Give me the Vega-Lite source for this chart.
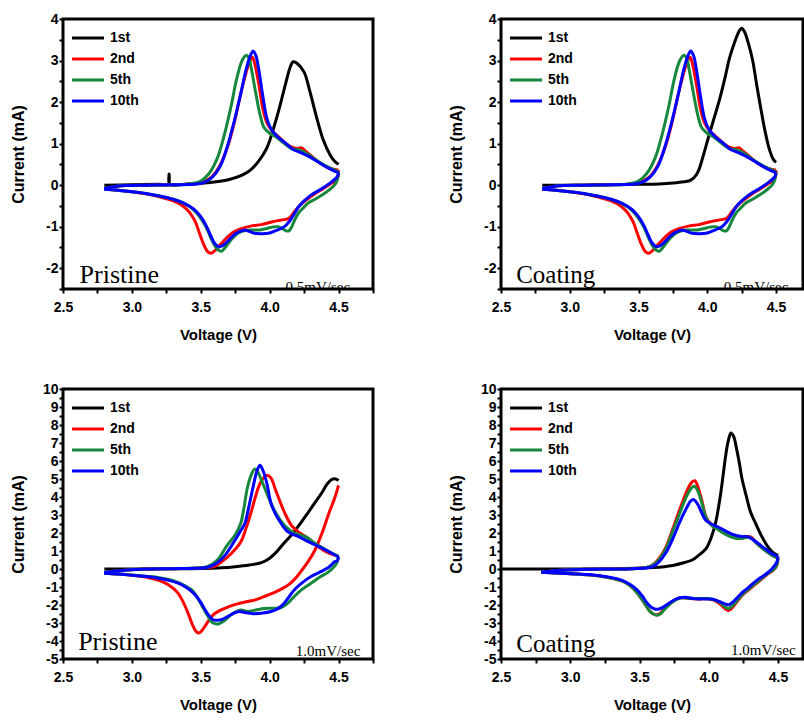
{
"$schema":"https://vega.github.io/schema/vega-lite/v6.json",
"padding":{"left":8,"top":10,"right":0,"bottom":0},
"background":"white",
"config":{
 "view":{"stroke":"black","strokeWidth":3},
 "axis":{"domain":false,"grid":false,"tickColor":"black","tickWidth":2,"tickSize":4,"tickCount":100,"labelFont":"Liberation Sans","labelFontWeight":"bold","labelFontSize":14,"labelColor":"black","labelFlush":false,"labelOverlap":false,"titleFont":"Liberation Sans","titleFontWeight":"bold","titleFontSize":15,"titleColor":"black"},
 "axisX":{"labelPadding":7,"titleY":38,"titleBaseline":"top"},
 "axisY":{"labelPadding":1,"titleX":-37,"titleBaseline":"bottom","titleFontSize":16},
 "legend":{"labelFont":"Liberation Sans","labelFontWeight":"bold","labelFontSize":14,"labelColor":"black","symbolType":"M-4,0H4","symbolSize":64,"symbolStrokeWidth":4,"labelOffset":15,"rowPadding":7},
 "line":{"interpolate":"catmull-rom","strokeWidth":3},
 "text":{"font":"Liberation Serif","color":"black"}
},
"datasets":{
"tl":[
{"c":"1st","b":"u","v":2.8,"a":0.0},{"c":"1st","b":"u","v":3.0,"a":0.01},{"c":"1st","b":"u","v":3.2,"a":0.02},{"c":"1st","b":"u","v":3.265,"a":0.02},{"c":"1st","b":"u","v":3.27,"a":0.27},{"c":"1st","b":"u","v":3.275,"a":0.02},{"c":"1st","b":"u","v":3.4,"a":0.03},{"c":"1st","b":"u","v":3.55,"a":0.06},{"c":"1st","b":"u","v":3.7,"a":0.13},{"c":"1st","b":"u","v":3.8,"a":0.24},{"c":"1st","b":"u","v":3.86,"a":0.36},{"c":"1st","b":"u","v":3.92,"a":0.58},{"c":"1st","b":"u","v":3.98,"a":0.9},{"c":"1st","b":"u","v":4.04,"a":1.5},{"c":"1st","b":"u","v":4.08,"a":1.98},{"c":"1st","b":"u","v":4.12,"a":2.5},{"c":"1st","b":"u","v":4.15,"a":2.85},{"c":"1st","b":"u","v":4.17,"a":2.97},{"c":"1st","b":"u","v":4.2,"a":2.93},{"c":"1st","b":"u","v":4.25,"a":2.72},{"c":"1st","b":"u","v":4.29,"a":2.28},{"c":"1st","b":"u","v":4.34,"a":1.64},{"c":"1st","b":"u","v":4.39,"a":1.08},{"c":"1st","b":"u","v":4.44,"a":0.72},{"c":"1st","b":"u","v":4.47,"a":0.58},{"c":"1st","b":"u","v":4.5,"a":0.5},
{"c":"2nd","b":"u","v":2.8,"a":-0.08},{"c":"2nd","b":"u","v":2.9,"a":-0.02},{"c":"2nd","b":"u","v":3.1,"a":0.0},{"c":"2nd","b":"u","v":3.3,"a":0.01},{"c":"2nd","b":"u","v":3.45,"a":0.03},{"c":"2nd","b":"u","v":3.52,"a":0.08},{"c":"2nd","b":"u","v":3.58,"a":0.2},{"c":"2nd","b":"u","v":3.64,"a":0.48},{"c":"2nd","b":"u","v":3.7,"a":0.98},{"c":"2nd","b":"u","v":3.75,"a":1.6},{"c":"2nd","b":"u","v":3.79,"a":2.2},{"c":"2nd","b":"u","v":3.83,"a":2.72},{"c":"2nd","b":"u","v":3.86,"a":3.02},{"c":"2nd","b":"u","v":3.875,"a":3.08},{"c":"2nd","b":"u","v":3.89,"a":2.95},{"c":"2nd","b":"u","v":3.92,"a":2.45},{"c":"2nd","b":"u","v":3.95,"a":1.85},{"c":"2nd","b":"u","v":3.98,"a":1.5},{"c":"2nd","b":"u","v":4.02,"a":1.3},{"c":"2nd","b":"u","v":4.07,"a":1.15},{"c":"2nd","b":"u","v":4.12,"a":1.0},{"c":"2nd","b":"u","v":4.17,"a":0.9},{"c":"2nd","b":"u","v":4.2,"a":0.88},{"c":"2nd","b":"u","v":4.23,"a":0.9},{"c":"2nd","b":"u","v":4.26,"a":0.82},{"c":"2nd","b":"u","v":4.31,"a":0.68},{"c":"2nd","b":"u","v":4.37,"a":0.52},{"c":"2nd","b":"u","v":4.44,"a":0.4},{"c":"2nd","b":"u","v":4.5,"a":0.36},
{"c":"2nd","b":"d","v":4.5,"a":0.36},{"c":"2nd","b":"d","v":4.49,"a":0.15},{"c":"2nd","b":"d","v":4.45,"a":0.05},{"c":"2nd","b":"d","v":4.39,"a":-0.08},{"c":"2nd","b":"d","v":4.33,"a":-0.2},{"c":"2nd","b":"d","v":4.28,"a":-0.32},{"c":"2nd","b":"d","v":4.23,"a":-0.45},{"c":"2nd","b":"d","v":4.18,"a":-0.64},{"c":"2nd","b":"d","v":4.14,"a":-0.8},{"c":"2nd","b":"d","v":4.1,"a":-0.83},{"c":"2nd","b":"d","v":4.05,"a":-0.86},{"c":"2nd","b":"d","v":4.0,"a":-0.9},{"c":"2nd","b":"d","v":3.94,"a":-0.95},{"c":"2nd","b":"d","v":3.87,"a":-0.98},{"c":"2nd","b":"d","v":3.8,"a":-1.04},{"c":"2nd","b":"d","v":3.74,"a":-1.12},{"c":"2nd","b":"d","v":3.69,"a":-1.26},{"c":"2nd","b":"d","v":3.65,"a":-1.4},{"c":"2nd","b":"d","v":3.61,"a":-1.55},{"c":"2nd","b":"d","v":3.575,"a":-1.64},{"c":"2nd","b":"d","v":3.55,"a":-1.6},{"c":"2nd","b":"d","v":3.52,"a":-1.42},{"c":"2nd","b":"d","v":3.49,"a":-1.15},{"c":"2nd","b":"d","v":3.46,"a":-0.88},{"c":"2nd","b":"d","v":3.42,"a":-0.66},{"c":"2nd","b":"d","v":3.37,"a":-0.5},{"c":"2nd","b":"d","v":3.3,"a":-0.38},{"c":"2nd","b":"d","v":3.2,"a":-0.28},{"c":"2nd","b":"d","v":3.1,"a":-0.21},{"c":"2nd","b":"d","v":3.0,"a":-0.16},{"c":"2nd","b":"d","v":2.9,"a":-0.12},{"c":"2nd","b":"d","v":2.8,"a":-0.1},
{"c":"5th","b":"u","v":2.8,"a":-0.08},{"c":"5th","b":"u","v":2.9,"a":-0.02},{"c":"5th","b":"u","v":3.1,"a":0.0},{"c":"5th","b":"u","v":3.3,"a":0.01},{"c":"5th","b":"u","v":3.42,"a":0.03},{"c":"5th","b":"u","v":3.5,"a":0.1},{"c":"5th","b":"u","v":3.56,"a":0.28},{"c":"5th","b":"u","v":3.62,"a":0.65},{"c":"5th","b":"u","v":3.67,"a":1.2},{"c":"5th","b":"u","v":3.72,"a":1.9},{"c":"5th","b":"u","v":3.76,"a":2.55},{"c":"5th","b":"u","v":3.8,"a":3.0},{"c":"5th","b":"u","v":3.83,"a":3.13},{"c":"5th","b":"u","v":3.85,"a":3.05},{"c":"5th","b":"u","v":3.87,"a":2.75},{"c":"5th","b":"u","v":3.9,"a":2.2},{"c":"5th","b":"u","v":3.93,"a":1.7},{"c":"5th","b":"u","v":3.96,"a":1.38},{"c":"5th","b":"u","v":4.0,"a":1.25},{"c":"5th","b":"u","v":4.05,"a":1.15},{"c":"5th","b":"u","v":4.1,"a":1.02},{"c":"5th","b":"u","v":4.16,"a":0.88},{"c":"5th","b":"u","v":4.22,"a":0.84},{"c":"5th","b":"u","v":4.27,"a":0.76},{"c":"5th","b":"u","v":4.33,"a":0.62},{"c":"5th","b":"u","v":4.4,"a":0.48},{"c":"5th","b":"u","v":4.46,"a":0.38},{"c":"5th","b":"u","v":4.5,"a":0.32},
{"c":"5th","b":"d","v":4.5,"a":0.32},{"c":"5th","b":"d","v":4.49,"a":0.12},{"c":"5th","b":"d","v":4.47,"a":0.0},{"c":"5th","b":"d","v":4.43,"a":-0.12},{"c":"5th","b":"d","v":4.38,"a":-0.24},{"c":"5th","b":"d","v":4.33,"a":-0.34},{"c":"5th","b":"d","v":4.28,"a":-0.43},{"c":"5th","b":"d","v":4.24,"a":-0.56},{"c":"5th","b":"d","v":4.21,"a":-0.67},{"c":"5th","b":"d","v":4.18,"a":-0.85},{"c":"5th","b":"d","v":4.16,"a":-1.0},{"c":"5th","b":"d","v":4.14,"a":-1.1},{"c":"5th","b":"d","v":4.12,"a":-1.1},{"c":"5th","b":"d","v":4.09,"a":-1.04},{"c":"5th","b":"d","v":4.06,"a":-1.0},{"c":"5th","b":"d","v":4.02,"a":-1.01},{"c":"5th","b":"d","v":3.97,"a":-1.05},{"c":"5th","b":"d","v":3.92,"a":-1.08},{"c":"5th","b":"d","v":3.87,"a":-1.08},{"c":"5th","b":"d","v":3.82,"a":-1.09},{"c":"5th","b":"d","v":3.77,"a":-1.16},{"c":"5th","b":"d","v":3.73,"a":-1.28},{"c":"5th","b":"d","v":3.7,"a":-1.4},{"c":"5th","b":"d","v":3.67,"a":-1.53},{"c":"5th","b":"d","v":3.65,"a":-1.59},{"c":"5th","b":"d","v":3.63,"a":-1.57},{"c":"5th","b":"d","v":3.6,"a":-1.45},{"c":"5th","b":"d","v":3.57,"a":-1.25},{"c":"5th","b":"d","v":3.54,"a":-1.02},{"c":"5th","b":"d","v":3.5,"a":-0.8},{"c":"5th","b":"d","v":3.45,"a":-0.6},{"c":"5th","b":"d","v":3.38,"a":-0.44},{"c":"5th","b":"d","v":3.3,"a":-0.34},{"c":"5th","b":"d","v":3.2,"a":-0.26},{"c":"5th","b":"d","v":3.1,"a":-0.2},{"c":"5th","b":"d","v":3.0,"a":-0.16},{"c":"5th","b":"d","v":2.9,"a":-0.12},{"c":"5th","b":"d","v":2.8,"a":-0.1},
{"c":"10th","b":"u","v":2.8,"a":-0.08},{"c":"10th","b":"u","v":2.9,"a":-0.02},{"c":"10th","b":"u","v":3.1,"a":0.0},{"c":"10th","b":"u","v":3.3,"a":0.01},{"c":"10th","b":"u","v":3.45,"a":0.02},{"c":"10th","b":"u","v":3.52,"a":0.06},{"c":"10th","b":"u","v":3.58,"a":0.18},{"c":"10th","b":"u","v":3.64,"a":0.45},{"c":"10th","b":"u","v":3.69,"a":0.9},{"c":"10th","b":"u","v":3.74,"a":1.5},{"c":"10th","b":"u","v":3.79,"a":2.2},{"c":"10th","b":"u","v":3.83,"a":2.8},{"c":"10th","b":"u","v":3.86,"a":3.12},{"c":"10th","b":"u","v":3.88,"a":3.23},{"c":"10th","b":"u","v":3.9,"a":3.12},{"c":"10th","b":"u","v":3.92,"a":2.8},{"c":"10th","b":"u","v":3.95,"a":2.15},{"c":"10th","b":"u","v":3.98,"a":1.6},{"c":"10th","b":"u","v":4.01,"a":1.35},{"c":"10th","b":"u","v":4.06,"a":1.16},{"c":"10th","b":"u","v":4.12,"a":1.0},{"c":"10th","b":"u","v":4.17,"a":0.86},{"c":"10th","b":"u","v":4.23,"a":0.78},{"c":"10th","b":"u","v":4.28,"a":0.7},{"c":"10th","b":"u","v":4.34,"a":0.58},{"c":"10th","b":"u","v":4.41,"a":0.44},{"c":"10th","b":"u","v":4.47,"a":0.34},{"c":"10th","b":"u","v":4.5,"a":0.3},
{"c":"10th","b":"d","v":4.5,"a":0.3},{"c":"10th","b":"d","v":4.49,"a":0.2},{"c":"10th","b":"d","v":4.45,"a":0.08},{"c":"10th","b":"d","v":4.38,"a":-0.08},{"c":"10th","b":"d","v":4.3,"a":-0.24},{"c":"10th","b":"d","v":4.25,"a":-0.38},{"c":"10th","b":"d","v":4.21,"a":-0.52},{"c":"10th","b":"d","v":4.18,"a":-0.68},{"c":"10th","b":"d","v":4.15,"a":-0.84},{"c":"10th","b":"d","v":4.12,"a":-0.96},{"c":"10th","b":"d","v":4.09,"a":-1.03},{"c":"10th","b":"d","v":4.04,"a":-1.1},{"c":"10th","b":"d","v":3.99,"a":-1.16},{"c":"10th","b":"d","v":3.94,"a":-1.17},{"c":"10th","b":"d","v":3.89,"a":-1.16},{"c":"10th","b":"d","v":3.85,"a":-1.11},{"c":"10th","b":"d","v":3.82,"a":-1.08},{"c":"10th","b":"d","v":3.78,"a":-1.12},{"c":"10th","b":"d","v":3.74,"a":-1.2},{"c":"10th","b":"d","v":3.71,"a":-1.3},{"c":"10th","b":"d","v":3.68,"a":-1.4},{"c":"10th","b":"d","v":3.65,"a":-1.47},{"c":"10th","b":"d","v":3.63,"a":-1.48},{"c":"10th","b":"d","v":3.6,"a":-1.4},{"c":"10th","b":"d","v":3.57,"a":-1.2},{"c":"10th","b":"d","v":3.54,"a":-0.98},{"c":"10th","b":"d","v":3.5,"a":-0.76},{"c":"10th","b":"d","v":3.45,"a":-0.58},{"c":"10th","b":"d","v":3.38,"a":-0.44},{"c":"10th","b":"d","v":3.3,"a":-0.34},{"c":"10th","b":"d","v":3.2,"a":-0.26},{"c":"10th","b":"d","v":3.1,"a":-0.2},{"c":"10th","b":"d","v":3.0,"a":-0.16},{"c":"10th","b":"d","v":2.9,"a":-0.12},{"c":"10th","b":"d","v":2.8,"a":-0.1}
],
"tr":[
{"c":"1st","b":"u","v":2.8,"a":0.0},{"c":"1st","b":"u","v":3.0,"a":0.0},{"c":"1st","b":"u","v":3.3,"a":0.01},{"c":"1st","b":"u","v":3.5,"a":0.02},{"c":"1st","b":"u","v":3.65,"a":0.03},{"c":"1st","b":"u","v":3.75,"a":0.05},{"c":"1st","b":"u","v":3.83,"a":0.08},{"c":"1st","b":"u","v":3.88,"a":0.12},{"c":"1st","b":"u","v":3.92,"a":0.25},{"c":"1st","b":"u","v":3.94,"a":0.38},{"c":"1st","b":"u","v":3.97,"a":0.7},{"c":"1st","b":"u","v":4.01,"a":1.17},{"c":"1st","b":"u","v":4.05,"a":1.62},{"c":"1st","b":"u","v":4.09,"a":2.07},{"c":"1st","b":"u","v":4.13,"a":2.6},{"c":"1st","b":"u","v":4.16,"a":3.04},{"c":"1st","b":"u","v":4.2,"a":3.45},{"c":"1st","b":"u","v":4.23,"a":3.7},{"c":"1st","b":"u","v":4.25,"a":3.78},{"c":"1st","b":"u","v":4.27,"a":3.7},{"c":"1st","b":"u","v":4.3,"a":3.4},{"c":"1st","b":"u","v":4.33,"a":3.0},{"c":"1st","b":"u","v":4.36,"a":2.4},{"c":"1st","b":"u","v":4.39,"a":1.83},{"c":"1st","b":"u","v":4.42,"a":1.3},{"c":"1st","b":"u","v":4.45,"a":0.88},{"c":"1st","b":"u","v":4.48,"a":0.62},{"c":"1st","b":"u","v":4.5,"a":0.55},
{"c":"2nd","b":"u","v":2.8,"a":-0.08},{"c":"2nd","b":"u","v":2.9,"a":-0.02},{"c":"2nd","b":"u","v":3.1,"a":0.0},{"c":"2nd","b":"u","v":3.3,"a":0.01},{"c":"2nd","b":"u","v":3.45,"a":0.03},{"c":"2nd","b":"u","v":3.52,"a":0.08},{"c":"2nd","b":"u","v":3.58,"a":0.2},{"c":"2nd","b":"u","v":3.64,"a":0.48},{"c":"2nd","b":"u","v":3.7,"a":0.98},{"c":"2nd","b":"u","v":3.75,"a":1.6},{"c":"2nd","b":"u","v":3.79,"a":2.2},{"c":"2nd","b":"u","v":3.83,"a":2.72},{"c":"2nd","b":"u","v":3.86,"a":3.02},{"c":"2nd","b":"u","v":3.875,"a":3.08},{"c":"2nd","b":"u","v":3.89,"a":2.95},{"c":"2nd","b":"u","v":3.92,"a":2.45},{"c":"2nd","b":"u","v":3.95,"a":1.85},{"c":"2nd","b":"u","v":3.98,"a":1.5},{"c":"2nd","b":"u","v":4.02,"a":1.3},{"c":"2nd","b":"u","v":4.07,"a":1.15},{"c":"2nd","b":"u","v":4.12,"a":1.0},{"c":"2nd","b":"u","v":4.17,"a":0.9},{"c":"2nd","b":"u","v":4.2,"a":0.88},{"c":"2nd","b":"u","v":4.23,"a":0.9},{"c":"2nd","b":"u","v":4.26,"a":0.82},{"c":"2nd","b":"u","v":4.31,"a":0.68},{"c":"2nd","b":"u","v":4.37,"a":0.52},{"c":"2nd","b":"u","v":4.44,"a":0.4},{"c":"2nd","b":"u","v":4.5,"a":0.36},
{"c":"2nd","b":"d","v":4.5,"a":0.36},{"c":"2nd","b":"d","v":4.49,"a":0.15},{"c":"2nd","b":"d","v":4.45,"a":0.05},{"c":"2nd","b":"d","v":4.39,"a":-0.08},{"c":"2nd","b":"d","v":4.33,"a":-0.2},{"c":"2nd","b":"d","v":4.28,"a":-0.32},{"c":"2nd","b":"d","v":4.23,"a":-0.45},{"c":"2nd","b":"d","v":4.18,"a":-0.64},{"c":"2nd","b":"d","v":4.14,"a":-0.8},{"c":"2nd","b":"d","v":4.1,"a":-0.83},{"c":"2nd","b":"d","v":4.05,"a":-0.86},{"c":"2nd","b":"d","v":4.0,"a":-0.9},{"c":"2nd","b":"d","v":3.94,"a":-0.95},{"c":"2nd","b":"d","v":3.87,"a":-0.98},{"c":"2nd","b":"d","v":3.8,"a":-1.04},{"c":"2nd","b":"d","v":3.74,"a":-1.12},{"c":"2nd","b":"d","v":3.69,"a":-1.26},{"c":"2nd","b":"d","v":3.65,"a":-1.4},{"c":"2nd","b":"d","v":3.61,"a":-1.55},{"c":"2nd","b":"d","v":3.575,"a":-1.64},{"c":"2nd","b":"d","v":3.55,"a":-1.6},{"c":"2nd","b":"d","v":3.52,"a":-1.42},{"c":"2nd","b":"d","v":3.49,"a":-1.15},{"c":"2nd","b":"d","v":3.46,"a":-0.88},{"c":"2nd","b":"d","v":3.42,"a":-0.66},{"c":"2nd","b":"d","v":3.37,"a":-0.5},{"c":"2nd","b":"d","v":3.3,"a":-0.38},{"c":"2nd","b":"d","v":3.2,"a":-0.28},{"c":"2nd","b":"d","v":3.1,"a":-0.21},{"c":"2nd","b":"d","v":3.0,"a":-0.16},{"c":"2nd","b":"d","v":2.9,"a":-0.12},{"c":"2nd","b":"d","v":2.8,"a":-0.1},
{"c":"5th","b":"u","v":2.8,"a":-0.08},{"c":"5th","b":"u","v":2.9,"a":-0.02},{"c":"5th","b":"u","v":3.1,"a":0.0},{"c":"5th","b":"u","v":3.3,"a":0.01},{"c":"5th","b":"u","v":3.42,"a":0.03},{"c":"5th","b":"u","v":3.5,"a":0.1},{"c":"5th","b":"u","v":3.56,"a":0.28},{"c":"5th","b":"u","v":3.62,"a":0.65},{"c":"5th","b":"u","v":3.67,"a":1.2},{"c":"5th","b":"u","v":3.72,"a":1.9},{"c":"5th","b":"u","v":3.76,"a":2.55},{"c":"5th","b":"u","v":3.8,"a":3.0},{"c":"5th","b":"u","v":3.83,"a":3.13},{"c":"5th","b":"u","v":3.85,"a":3.05},{"c":"5th","b":"u","v":3.87,"a":2.75},{"c":"5th","b":"u","v":3.9,"a":2.2},{"c":"5th","b":"u","v":3.93,"a":1.7},{"c":"5th","b":"u","v":3.96,"a":1.38},{"c":"5th","b":"u","v":4.0,"a":1.25},{"c":"5th","b":"u","v":4.05,"a":1.15},{"c":"5th","b":"u","v":4.1,"a":1.02},{"c":"5th","b":"u","v":4.16,"a":0.88},{"c":"5th","b":"u","v":4.22,"a":0.84},{"c":"5th","b":"u","v":4.27,"a":0.76},{"c":"5th","b":"u","v":4.33,"a":0.62},{"c":"5th","b":"u","v":4.4,"a":0.48},{"c":"5th","b":"u","v":4.46,"a":0.38},{"c":"5th","b":"u","v":4.5,"a":0.32},
{"c":"5th","b":"d","v":4.5,"a":0.32},{"c":"5th","b":"d","v":4.49,"a":0.12},{"c":"5th","b":"d","v":4.47,"a":0.0},{"c":"5th","b":"d","v":4.43,"a":-0.12},{"c":"5th","b":"d","v":4.38,"a":-0.24},{"c":"5th","b":"d","v":4.33,"a":-0.34},{"c":"5th","b":"d","v":4.28,"a":-0.43},{"c":"5th","b":"d","v":4.24,"a":-0.56},{"c":"5th","b":"d","v":4.21,"a":-0.67},{"c":"5th","b":"d","v":4.18,"a":-0.85},{"c":"5th","b":"d","v":4.16,"a":-1.0},{"c":"5th","b":"d","v":4.14,"a":-1.1},{"c":"5th","b":"d","v":4.12,"a":-1.1},{"c":"5th","b":"d","v":4.09,"a":-1.04},{"c":"5th","b":"d","v":4.06,"a":-1.0},{"c":"5th","b":"d","v":4.02,"a":-1.01},{"c":"5th","b":"d","v":3.97,"a":-1.05},{"c":"5th","b":"d","v":3.92,"a":-1.08},{"c":"5th","b":"d","v":3.87,"a":-1.08},{"c":"5th","b":"d","v":3.82,"a":-1.09},{"c":"5th","b":"d","v":3.77,"a":-1.16},{"c":"5th","b":"d","v":3.73,"a":-1.28},{"c":"5th","b":"d","v":3.7,"a":-1.4},{"c":"5th","b":"d","v":3.67,"a":-1.53},{"c":"5th","b":"d","v":3.65,"a":-1.59},{"c":"5th","b":"d","v":3.63,"a":-1.57},{"c":"5th","b":"d","v":3.6,"a":-1.45},{"c":"5th","b":"d","v":3.57,"a":-1.25},{"c":"5th","b":"d","v":3.54,"a":-1.02},{"c":"5th","b":"d","v":3.5,"a":-0.8},{"c":"5th","b":"d","v":3.45,"a":-0.6},{"c":"5th","b":"d","v":3.38,"a":-0.44},{"c":"5th","b":"d","v":3.3,"a":-0.34},{"c":"5th","b":"d","v":3.2,"a":-0.26},{"c":"5th","b":"d","v":3.1,"a":-0.2},{"c":"5th","b":"d","v":3.0,"a":-0.16},{"c":"5th","b":"d","v":2.9,"a":-0.12},{"c":"5th","b":"d","v":2.8,"a":-0.1},
{"c":"10th","b":"u","v":2.8,"a":-0.08},{"c":"10th","b":"u","v":2.9,"a":-0.02},{"c":"10th","b":"u","v":3.1,"a":0.0},{"c":"10th","b":"u","v":3.3,"a":0.01},{"c":"10th","b":"u","v":3.45,"a":0.02},{"c":"10th","b":"u","v":3.52,"a":0.06},{"c":"10th","b":"u","v":3.58,"a":0.18},{"c":"10th","b":"u","v":3.64,"a":0.45},{"c":"10th","b":"u","v":3.69,"a":0.9},{"c":"10th","b":"u","v":3.74,"a":1.5},{"c":"10th","b":"u","v":3.79,"a":2.2},{"c":"10th","b":"u","v":3.83,"a":2.8},{"c":"10th","b":"u","v":3.86,"a":3.12},{"c":"10th","b":"u","v":3.88,"a":3.23},{"c":"10th","b":"u","v":3.9,"a":3.12},{"c":"10th","b":"u","v":3.92,"a":2.8},{"c":"10th","b":"u","v":3.95,"a":2.15},{"c":"10th","b":"u","v":3.98,"a":1.6},{"c":"10th","b":"u","v":4.01,"a":1.35},{"c":"10th","b":"u","v":4.06,"a":1.16},{"c":"10th","b":"u","v":4.12,"a":1.0},{"c":"10th","b":"u","v":4.17,"a":0.86},{"c":"10th","b":"u","v":4.23,"a":0.78},{"c":"10th","b":"u","v":4.28,"a":0.7},{"c":"10th","b":"u","v":4.34,"a":0.58},{"c":"10th","b":"u","v":4.41,"a":0.44},{"c":"10th","b":"u","v":4.47,"a":0.34},{"c":"10th","b":"u","v":4.5,"a":0.3},
{"c":"10th","b":"d","v":4.5,"a":0.3},{"c":"10th","b":"d","v":4.49,"a":0.2},{"c":"10th","b":"d","v":4.45,"a":0.08},{"c":"10th","b":"d","v":4.38,"a":-0.08},{"c":"10th","b":"d","v":4.3,"a":-0.24},{"c":"10th","b":"d","v":4.25,"a":-0.38},{"c":"10th","b":"d","v":4.21,"a":-0.52},{"c":"10th","b":"d","v":4.18,"a":-0.68},{"c":"10th","b":"d","v":4.15,"a":-0.84},{"c":"10th","b":"d","v":4.12,"a":-0.96},{"c":"10th","b":"d","v":4.09,"a":-1.03},{"c":"10th","b":"d","v":4.04,"a":-1.1},{"c":"10th","b":"d","v":3.99,"a":-1.16},{"c":"10th","b":"d","v":3.94,"a":-1.17},{"c":"10th","b":"d","v":3.89,"a":-1.16},{"c":"10th","b":"d","v":3.85,"a":-1.11},{"c":"10th","b":"d","v":3.82,"a":-1.08},{"c":"10th","b":"d","v":3.78,"a":-1.12},{"c":"10th","b":"d","v":3.74,"a":-1.2},{"c":"10th","b":"d","v":3.71,"a":-1.3},{"c":"10th","b":"d","v":3.68,"a":-1.4},{"c":"10th","b":"d","v":3.65,"a":-1.47},{"c":"10th","b":"d","v":3.63,"a":-1.48},{"c":"10th","b":"d","v":3.6,"a":-1.4},{"c":"10th","b":"d","v":3.57,"a":-1.2},{"c":"10th","b":"d","v":3.54,"a":-0.98},{"c":"10th","b":"d","v":3.5,"a":-0.76},{"c":"10th","b":"d","v":3.45,"a":-0.58},{"c":"10th","b":"d","v":3.38,"a":-0.44},{"c":"10th","b":"d","v":3.3,"a":-0.34},{"c":"10th","b":"d","v":3.2,"a":-0.26},{"c":"10th","b":"d","v":3.1,"a":-0.2},{"c":"10th","b":"d","v":3.0,"a":-0.16},{"c":"10th","b":"d","v":2.9,"a":-0.12},{"c":"10th","b":"d","v":2.8,"a":-0.1}
],
"bl":[
{"c":"1st","b":"u","v":2.8,"a":0.0},{"c":"1st","b":"u","v":3.0,"a":0.0},{"c":"1st","b":"u","v":3.3,"a":0.01},{"c":"1st","b":"u","v":3.5,"a":0.03},{"c":"1st","b":"u","v":3.65,"a":0.07},{"c":"1st","b":"u","v":3.75,"a":0.13},{"c":"1st","b":"u","v":3.85,"a":0.22},{"c":"1st","b":"u","v":3.94,"a":0.35},{"c":"1st","b":"u","v":4.0,"a":0.6},{"c":"1st","b":"u","v":4.05,"a":0.95},{"c":"1st","b":"u","v":4.1,"a":1.4},{"c":"1st","b":"u","v":4.16,"a":1.9},{"c":"1st","b":"u","v":4.22,"a":2.5},{"c":"1st","b":"u","v":4.28,"a":3.15},{"c":"1st","b":"u","v":4.33,"a":3.7},{"c":"1st","b":"u","v":4.38,"a":4.25},{"c":"1st","b":"u","v":4.42,"a":4.75},{"c":"1st","b":"u","v":4.45,"a":4.97},{"c":"1st","b":"u","v":4.47,"a":5.02},{"c":"1st","b":"u","v":4.49,"a":4.97},{"c":"1st","b":"u","v":4.5,"a":4.92},
{"c":"2nd","b":"u","v":2.8,"a":-0.2},{"c":"2nd","b":"u","v":2.9,"a":-0.1},{"c":"2nd","b":"u","v":3.1,"a":0.0},{"c":"2nd","b":"u","v":3.3,"a":0.02},{"c":"2nd","b":"u","v":3.5,"a":0.06},{"c":"2nd","b":"u","v":3.6,"a":0.15},{"c":"2nd","b":"u","v":3.66,"a":0.45},{"c":"2nd","b":"u","v":3.72,"a":0.85},{"c":"2nd","b":"u","v":3.79,"a":1.5},{"c":"2nd","b":"u","v":3.83,"a":2.3},{"c":"2nd","b":"u","v":3.87,"a":3.28},{"c":"2nd","b":"u","v":3.9,"a":4.1},{"c":"2nd","b":"u","v":3.93,"a":4.75},{"c":"2nd","b":"u","v":3.96,"a":5.1},{"c":"2nd","b":"u","v":3.98,"a":5.21},{"c":"2nd","b":"u","v":4.01,"a":5.05},{"c":"2nd","b":"u","v":4.04,"a":4.45},{"c":"2nd","b":"u","v":4.08,"a":3.65},{"c":"2nd","b":"u","v":4.11,"a":3.1},{"c":"2nd","b":"u","v":4.16,"a":2.4},{"c":"2nd","b":"u","v":4.21,"a":2.05},{"c":"2nd","b":"u","v":4.28,"a":1.7},{"c":"2nd","b":"u","v":4.35,"a":1.25},{"c":"2nd","b":"u","v":4.43,"a":0.88},{"c":"2nd","b":"u","v":4.5,"a":0.7},
{"c":"2nd","b":"d","v":4.5,"a":4.65},{"c":"2nd","b":"d","v":4.47,"a":3.9},{"c":"2nd","b":"d","v":4.43,"a":3.1},{"c":"2nd","b":"d","v":4.38,"a":2.0},{"c":"2nd","b":"d","v":4.33,"a":1.07},{"c":"2nd","b":"d","v":4.28,"a":0.42},{"c":"2nd","b":"d","v":4.24,"a":0.0},{"c":"2nd","b":"d","v":4.2,"a":-0.4},{"c":"2nd","b":"d","v":4.15,"a":-0.8},{"c":"2nd","b":"d","v":4.1,"a":-1.05},{"c":"2nd","b":"d","v":4.04,"a":-1.28},{"c":"2nd","b":"d","v":3.97,"a":-1.5},{"c":"2nd","b":"d","v":3.9,"a":-1.7},{"c":"2nd","b":"d","v":3.83,"a":-1.82},{"c":"2nd","b":"d","v":3.76,"a":-1.95},{"c":"2nd","b":"d","v":3.7,"a":-2.1},{"c":"2nd","b":"d","v":3.64,"a":-2.3},{"c":"2nd","b":"d","v":3.59,"a":-2.55},{"c":"2nd","b":"d","v":3.55,"a":-2.95},{"c":"2nd","b":"d","v":3.52,"a":-3.3},{"c":"2nd","b":"d","v":3.49,"a":-3.55},{"c":"2nd","b":"d","v":3.47,"a":-3.5},{"c":"2nd","b":"d","v":3.44,"a":-3.1},{"c":"2nd","b":"d","v":3.41,"a":-2.5},{"c":"2nd","b":"d","v":3.37,"a":-1.8},{"c":"2nd","b":"d","v":3.33,"a":-1.3},{"c":"2nd","b":"d","v":3.27,"a":-0.9},{"c":"2nd","b":"d","v":3.2,"a":-0.65},{"c":"2nd","b":"d","v":3.1,"a":-0.45},{"c":"2nd","b":"d","v":3.0,"a":-0.35},{"c":"2nd","b":"d","v":2.9,"a":-0.28},{"c":"2nd","b":"d","v":2.8,"a":-0.24},
{"c":"5th","b":"u","v":2.8,"a":-0.2},{"c":"5th","b":"u","v":2.9,"a":-0.1},{"c":"5th","b":"u","v":3.1,"a":0.0},{"c":"5th","b":"u","v":3.3,"a":0.02},{"c":"5th","b":"u","v":3.45,"a":0.05},{"c":"5th","b":"u","v":3.55,"a":0.15},{"c":"5th","b":"u","v":3.62,"a":0.5},{"c":"5th","b":"u","v":3.69,"a":1.3},{"c":"5th","b":"u","v":3.75,"a":1.9},{"c":"5th","b":"u","v":3.79,"a":2.54},{"c":"5th","b":"u","v":3.84,"a":4.57},{"c":"5th","b":"u","v":3.87,"a":5.3},{"c":"5th","b":"u","v":3.89,"a":5.55},{"c":"5th","b":"u","v":3.91,"a":5.45},{"c":"5th","b":"u","v":3.94,"a":4.94},{"c":"5th","b":"u","v":3.99,"a":4.01},{"c":"5th","b":"u","v":4.04,"a":3.18},{"c":"5th","b":"u","v":4.11,"a":2.4},{"c":"5th","b":"u","v":4.18,"a":2.0},{"c":"5th","b":"u","v":4.26,"a":1.8},{"c":"5th","b":"u","v":4.33,"a":1.43},{"c":"5th","b":"u","v":4.43,"a":0.97},{"c":"5th","b":"u","v":4.5,"a":0.7},
{"c":"5th","b":"d","v":4.5,"a":0.7},{"c":"5th","b":"d","v":4.49,"a":0.4},{"c":"5th","b":"d","v":4.47,"a":0.15},{"c":"5th","b":"d","v":4.42,"a":-0.2},{"c":"5th","b":"d","v":4.37,"a":-0.42},{"c":"5th","b":"d","v":4.3,"a":-0.79},{"c":"5th","b":"d","v":4.23,"a":-1.16},{"c":"5th","b":"d","v":4.17,"a":-1.6},{"c":"5th","b":"d","v":4.12,"a":-1.98},{"c":"5th","b":"d","v":4.08,"a":-2.15},{"c":"5th","b":"d","v":4.02,"a":-2.18},{"c":"5th","b":"d","v":3.96,"a":-2.2},{"c":"5th","b":"d","v":3.9,"a":-2.28},{"c":"5th","b":"d","v":3.84,"a":-2.36},{"c":"5th","b":"d","v":3.79,"a":-2.28},{"c":"5th","b":"d","v":3.75,"a":-2.4},{"c":"5th","b":"d","v":3.71,"a":-2.6},{"c":"5th","b":"d","v":3.67,"a":-2.88},{"c":"5th","b":"d","v":3.63,"a":-3.05},{"c":"5th","b":"d","v":3.61,"a":-3.05},{"c":"5th","b":"d","v":3.58,"a":-2.95},{"c":"5th","b":"d","v":3.55,"a":-2.6},{"c":"5th","b":"d","v":3.52,"a":-2.2},{"c":"5th","b":"d","v":3.48,"a":-1.65},{"c":"5th","b":"d","v":3.44,"a":-1.2},{"c":"5th","b":"d","v":3.39,"a":-0.95},{"c":"5th","b":"d","v":3.3,"a":-0.65},{"c":"5th","b":"d","v":3.2,"a":-0.48},{"c":"5th","b":"d","v":3.1,"a":-0.4},{"c":"5th","b":"d","v":3.0,"a":-0.33},{"c":"5th","b":"d","v":2.9,"a":-0.28},{"c":"5th","b":"d","v":2.8,"a":-0.24},
{"c":"10th","b":"u","v":2.8,"a":-0.2},{"c":"10th","b":"u","v":2.9,"a":-0.1},{"c":"10th","b":"u","v":3.1,"a":0.0},{"c":"10th","b":"u","v":3.3,"a":0.02},{"c":"10th","b":"u","v":3.45,"a":0.04},{"c":"10th","b":"u","v":3.55,"a":0.1},{"c":"10th","b":"u","v":3.62,"a":0.35},{"c":"10th","b":"u","v":3.68,"a":0.8},{"c":"10th","b":"u","v":3.74,"a":1.5},{"c":"10th","b":"u","v":3.78,"a":2.0},{"c":"10th","b":"u","v":3.82,"a":2.54},{"c":"10th","b":"u","v":3.85,"a":3.5},{"c":"10th","b":"u","v":3.88,"a":4.57},{"c":"10th","b":"u","v":3.91,"a":5.5},{"c":"10th","b":"u","v":3.93,"a":5.77},{"c":"10th","b":"u","v":3.95,"a":5.5},{"c":"10th","b":"u","v":3.98,"a":4.75},{"c":"10th","b":"u","v":4.01,"a":3.64},{"c":"10th","b":"u","v":4.06,"a":2.81},{"c":"10th","b":"u","v":4.13,"a":2.08},{"c":"10th","b":"u","v":4.21,"a":1.8},{"c":"10th","b":"u","v":4.28,"a":1.52},{"c":"10th","b":"u","v":4.38,"a":1.16},{"c":"10th","b":"u","v":4.47,"a":0.79},{"c":"10th","b":"u","v":4.5,"a":0.65},
{"c":"10th","b":"d","v":4.5,"a":0.65},{"c":"10th","b":"d","v":4.49,"a":0.45},{"c":"10th","b":"d","v":4.47,"a":0.4},{"c":"10th","b":"d","v":4.45,"a":0.24},{"c":"10th","b":"d","v":4.42,"a":0.05},{"c":"10th","b":"d","v":4.37,"a":-0.15},{"c":"10th","b":"d","v":4.3,"a":-0.42},{"c":"10th","b":"d","v":4.23,"a":-0.8},{"c":"10th","b":"d","v":4.18,"a":-1.15},{"c":"10th","b":"d","v":4.14,"a":-1.55},{"c":"10th","b":"d","v":4.1,"a":-1.95},{"c":"10th","b":"d","v":4.06,"a":-2.2},{"c":"10th","b":"d","v":4.01,"a":-2.36},{"c":"10th","b":"d","v":3.95,"a":-2.45},{"c":"10th","b":"d","v":3.88,"a":-2.48},{"c":"10th","b":"d","v":3.82,"a":-2.42},{"c":"10th","b":"d","v":3.78,"a":-2.36},{"c":"10th","b":"d","v":3.74,"a":-2.45},{"c":"10th","b":"d","v":3.7,"a":-2.62},{"c":"10th","b":"d","v":3.66,"a":-2.78},{"c":"10th","b":"d","v":3.62,"a":-2.85},{"c":"10th","b":"d","v":3.59,"a":-2.82},{"c":"10th","b":"d","v":3.56,"a":-2.6},{"c":"10th","b":"d","v":3.53,"a":-2.25},{"c":"10th","b":"d","v":3.5,"a":-1.85},{"c":"10th","b":"d","v":3.46,"a":-1.45},{"c":"10th","b":"d","v":3.41,"a":-1.1},{"c":"10th","b":"d","v":3.34,"a":-0.8},{"c":"10th","b":"d","v":3.25,"a":-0.6},{"c":"10th","b":"d","v":3.15,"a":-0.46},{"c":"10th","b":"d","v":3.0,"a":-0.35},{"c":"10th","b":"d","v":2.9,"a":-0.28},{"c":"10th","b":"d","v":2.8,"a":-0.24}
],
"br":[
{"c":"1st","b":"u","v":2.5,"a":0.0},{"c":"1st","b":"u","v":2.8,"a":0.0},{"c":"1st","b":"u","v":3.1,"a":0.0},{"c":"1st","b":"u","v":3.4,"a":0.02},{"c":"1st","b":"u","v":3.6,"a":0.08},{"c":"1st","b":"u","v":3.74,"a":0.2},{"c":"1st","b":"u","v":3.82,"a":0.35},{"c":"1st","b":"u","v":3.88,"a":0.5},{"c":"1st","b":"u","v":3.93,"a":0.78},{"c":"1st","b":"u","v":3.98,"a":1.13},{"c":"1st","b":"u","v":4.02,"a":1.8},{"c":"1st","b":"u","v":4.05,"a":2.6},{"c":"1st","b":"u","v":4.08,"a":3.9},{"c":"1st","b":"u","v":4.1,"a":5.0},{"c":"1st","b":"u","v":4.12,"a":6.2},{"c":"1st","b":"u","v":4.14,"a":7.1},{"c":"1st","b":"u","v":4.16,"a":7.56},{"c":"1st","b":"u","v":4.18,"a":7.35},{"c":"1st","b":"u","v":4.2,"a":6.7},{"c":"1st","b":"u","v":4.22,"a":5.9},{"c":"1st","b":"u","v":4.24,"a":5.0},{"c":"1st","b":"u","v":4.27,"a":4.07},{"c":"1st","b":"u","v":4.3,"a":3.2},{"c":"1st","b":"u","v":4.34,"a":2.5},{"c":"1st","b":"u","v":4.39,"a":1.7},{"c":"1st","b":"u","v":4.43,"a":1.2},{"c":"1st","b":"u","v":4.46,"a":0.94},{"c":"1st","b":"u","v":4.5,"a":0.75},
{"c":"2nd","b":"u","v":2.79,"a":-0.18},{"c":"2nd","b":"u","v":2.9,"a":-0.08},{"c":"2nd","b":"u","v":3.1,"a":-0.02},{"c":"2nd","b":"u","v":3.3,"a":0.0},{"c":"2nd","b":"u","v":3.45,"a":0.02},{"c":"2nd","b":"u","v":3.55,"a":0.08},{"c":"2nd","b":"u","v":3.6,"a":0.25},{"c":"2nd","b":"u","v":3.64,"a":0.57},{"c":"2nd","b":"u","v":3.69,"a":1.2},{"c":"2nd","b":"u","v":3.74,"a":2.23},{"c":"2nd","b":"u","v":3.79,"a":3.3},{"c":"2nd","b":"u","v":3.84,"a":4.3},{"c":"2nd","b":"u","v":3.875,"a":4.8},{"c":"2nd","b":"u","v":3.9,"a":4.9},{"c":"2nd","b":"u","v":3.92,"a":4.6},{"c":"2nd","b":"u","v":3.95,"a":3.8},{"c":"2nd","b":"u","v":3.98,"a":2.9},{"c":"2nd","b":"u","v":4.02,"a":2.45},{"c":"2nd","b":"u","v":4.05,"a":2.3},{"c":"2nd","b":"u","v":4.1,"a":2.05},{"c":"2nd","b":"u","v":4.15,"a":1.86},{"c":"2nd","b":"u","v":4.2,"a":1.72},{"c":"2nd","b":"u","v":4.24,"a":1.72},{"c":"2nd","b":"u","v":4.28,"a":1.8},{"c":"2nd","b":"u","v":4.31,"a":1.75},{"c":"2nd","b":"u","v":4.34,"a":1.48},{"c":"2nd","b":"u","v":4.4,"a":1.08},{"c":"2nd","b":"u","v":4.46,"a":0.75},{"c":"2nd","b":"u","v":4.5,"a":0.6},
{"c":"2nd","b":"d","v":4.5,"a":0.6},{"c":"2nd","b":"d","v":4.49,"a":0.18},{"c":"2nd","b":"d","v":4.46,"a":-0.1},{"c":"2nd","b":"d","v":4.43,"a":-0.25},{"c":"2nd","b":"d","v":4.39,"a":-0.5},{"c":"2nd","b":"d","v":4.36,"a":-0.7},{"c":"2nd","b":"d","v":4.32,"a":-0.95},{"c":"2nd","b":"d","v":4.29,"a":-1.15},{"c":"2nd","b":"d","v":4.25,"a":-1.4},{"c":"2nd","b":"d","v":4.22,"a":-1.65},{"c":"2nd","b":"d","v":4.19,"a":-1.95},{"c":"2nd","b":"d","v":4.16,"a":-2.22},{"c":"2nd","b":"d","v":4.14,"a":-2.3},{"c":"2nd","b":"d","v":4.12,"a":-2.22},{"c":"2nd","b":"d","v":4.09,"a":-2.0},{"c":"2nd","b":"d","v":4.05,"a":-1.78},{"c":"2nd","b":"d","v":4.0,"a":-1.66},{"c":"2nd","b":"d","v":3.93,"a":-1.66},{"c":"2nd","b":"d","v":3.86,"a":-1.64},{"c":"2nd","b":"d","v":3.8,"a":-1.6},{"c":"2nd","b":"d","v":3.76,"a":-1.7},{"c":"2nd","b":"d","v":3.72,"a":-1.9},{"c":"2nd","b":"d","v":3.68,"a":-2.2},{"c":"2nd","b":"d","v":3.65,"a":-2.45},{"c":"2nd","b":"d","v":3.62,"a":-2.55},{"c":"2nd","b":"d","v":3.6,"a":-2.5},{"c":"2nd","b":"d","v":3.57,"a":-2.3},{"c":"2nd","b":"d","v":3.54,"a":-1.95},{"c":"2nd","b":"d","v":3.5,"a":-1.5},{"c":"2nd","b":"d","v":3.45,"a":-1.05},{"c":"2nd","b":"d","v":3.39,"a":-0.72},{"c":"2nd","b":"d","v":3.32,"a":-0.55},{"c":"2nd","b":"d","v":3.2,"a":-0.38},{"c":"2nd","b":"d","v":3.05,"a":-0.28},{"c":"2nd","b":"d","v":2.9,"a":-0.22},{"c":"2nd","b":"d","v":2.79,"a":-0.18},
{"c":"5th","b":"u","v":2.79,"a":-0.18},{"c":"5th","b":"u","v":2.9,"a":-0.08},{"c":"5th","b":"u","v":3.1,"a":-0.02},{"c":"5th","b":"u","v":3.3,"a":0.0},{"c":"5th","b":"u","v":3.45,"a":0.02},{"c":"5th","b":"u","v":3.55,"a":0.08},{"c":"5th","b":"u","v":3.6,"a":0.24},{"c":"5th","b":"u","v":3.64,"a":0.52},{"c":"5th","b":"u","v":3.69,"a":1.12},{"c":"5th","b":"u","v":3.74,"a":2.1},{"c":"5th","b":"u","v":3.79,"a":3.1},{"c":"5th","b":"u","v":3.84,"a":4.05},{"c":"5th","b":"u","v":3.875,"a":4.5},{"c":"5th","b":"u","v":3.895,"a":4.6},{"c":"5th","b":"u","v":3.92,"a":4.35},{"c":"5th","b":"u","v":3.95,"a":3.65},{"c":"5th","b":"u","v":3.98,"a":2.85},{"c":"5th","b":"u","v":4.02,"a":2.42},{"c":"5th","b":"u","v":4.05,"a":2.28},{"c":"5th","b":"u","v":4.1,"a":2.02},{"c":"5th","b":"u","v":4.15,"a":1.82},{"c":"5th","b":"u","v":4.2,"a":1.7},{"c":"5th","b":"u","v":4.24,"a":1.7},{"c":"5th","b":"u","v":4.28,"a":1.76},{"c":"5th","b":"u","v":4.31,"a":1.7},{"c":"5th","b":"u","v":4.34,"a":1.46},{"c":"5th","b":"u","v":4.4,"a":1.06},{"c":"5th","b":"u","v":4.46,"a":0.74},{"c":"5th","b":"u","v":4.5,"a":0.6},
{"c":"5th","b":"d","v":4.5,"a":0.6},{"c":"5th","b":"d","v":4.49,"a":0.2},{"c":"5th","b":"d","v":4.46,"a":-0.08},{"c":"5th","b":"d","v":4.43,"a":-0.22},{"c":"5th","b":"d","v":4.39,"a":-0.46},{"c":"5th","b":"d","v":4.36,"a":-0.66},{"c":"5th","b":"d","v":4.32,"a":-0.9},{"c":"5th","b":"d","v":4.29,"a":-1.1},{"c":"5th","b":"d","v":4.25,"a":-1.36},{"c":"5th","b":"d","v":4.22,"a":-1.6},{"c":"5th","b":"d","v":4.19,"a":-1.88},{"c":"5th","b":"d","v":4.16,"a":-2.12},{"c":"5th","b":"d","v":4.14,"a":-2.2},{"c":"5th","b":"d","v":4.12,"a":-2.12},{"c":"5th","b":"d","v":4.09,"a":-1.92},{"c":"5th","b":"d","v":4.05,"a":-1.74},{"c":"5th","b":"d","v":4.0,"a":-1.64},{"c":"5th","b":"d","v":3.93,"a":-1.64},{"c":"5th","b":"d","v":3.86,"a":-1.62},{"c":"5th","b":"d","v":3.8,"a":-1.6},{"c":"5th","b":"d","v":3.76,"a":-1.72},{"c":"5th","b":"d","v":3.72,"a":-1.95},{"c":"5th","b":"d","v":3.68,"a":-2.25},{"c":"5th","b":"d","v":3.65,"a":-2.5},{"c":"5th","b":"d","v":3.63,"a":-2.57},{"c":"5th","b":"d","v":3.6,"a":-2.5},{"c":"5th","b":"d","v":3.57,"a":-2.3},{"c":"5th","b":"d","v":3.54,"a":-1.95},{"c":"5th","b":"d","v":3.5,"a":-1.5},{"c":"5th","b":"d","v":3.45,"a":-1.05},{"c":"5th","b":"d","v":3.39,"a":-0.72},{"c":"5th","b":"d","v":3.32,"a":-0.55},{"c":"5th","b":"d","v":3.2,"a":-0.38},{"c":"5th","b":"d","v":3.05,"a":-0.28},{"c":"5th","b":"d","v":2.9,"a":-0.22},{"c":"5th","b":"d","v":2.79,"a":-0.18},
{"c":"10th","b":"u","v":2.79,"a":-0.18},{"c":"10th","b":"u","v":2.9,"a":-0.08},{"c":"10th","b":"u","v":3.1,"a":-0.02},{"c":"10th","b":"u","v":3.3,"a":0.0},{"c":"10th","b":"u","v":3.45,"a":0.02},{"c":"10th","b":"u","v":3.55,"a":0.06},{"c":"10th","b":"u","v":3.6,"a":0.15},{"c":"10th","b":"u","v":3.64,"a":0.39},{"c":"10th","b":"u","v":3.69,"a":0.9},{"c":"10th","b":"u","v":3.74,"a":1.68},{"c":"10th","b":"u","v":3.79,"a":2.6},{"c":"10th","b":"u","v":3.84,"a":3.4},{"c":"10th","b":"u","v":3.87,"a":3.78},{"c":"10th","b":"u","v":3.89,"a":3.86},{"c":"10th","b":"u","v":3.92,"a":3.6},{"c":"10th","b":"u","v":3.95,"a":3.1},{"c":"10th","b":"u","v":3.98,"a":2.69},{"c":"10th","b":"u","v":4.02,"a":2.5},{"c":"10th","b":"u","v":4.07,"a":2.32},{"c":"10th","b":"u","v":4.13,"a":2.08},{"c":"10th","b":"u","v":4.19,"a":1.88},{"c":"10th","b":"u","v":4.24,"a":1.8},{"c":"10th","b":"u","v":4.28,"a":1.8},{"c":"10th","b":"u","v":4.32,"a":1.62},{"c":"10th","b":"u","v":4.36,"a":1.4},{"c":"10th","b":"u","v":4.42,"a":1.05},{"c":"10th","b":"u","v":4.48,"a":0.75},{"c":"10th","b":"u","v":4.5,"a":0.7},
{"c":"10th","b":"d","v":4.5,"a":0.7},{"c":"10th","b":"d","v":4.49,"a":0.37},{"c":"10th","b":"d","v":4.46,"a":0.05},{"c":"10th","b":"d","v":4.43,"a":-0.18},{"c":"10th","b":"d","v":4.39,"a":-0.4},{"c":"10th","b":"d","v":4.36,"a":-0.55},{"c":"10th","b":"d","v":4.32,"a":-0.8},{"c":"10th","b":"d","v":4.29,"a":-1.01},{"c":"10th","b":"d","v":4.25,"a":-1.25},{"c":"10th","b":"d","v":4.22,"a":-1.48},{"c":"10th","b":"d","v":4.19,"a":-1.72},{"c":"10th","b":"d","v":4.16,"a":-1.92},{"c":"10th","b":"d","v":4.14,"a":-1.99},{"c":"10th","b":"d","v":4.11,"a":-1.92},{"c":"10th","b":"d","v":4.08,"a":-1.82},{"c":"10th","b":"d","v":4.03,"a":-1.68},{"c":"10th","b":"d","v":3.97,"a":-1.66},{"c":"10th","b":"d","v":3.9,"a":-1.66},{"c":"10th","b":"d","v":3.83,"a":-1.57},{"c":"10th","b":"d","v":3.79,"a":-1.6},{"c":"10th","b":"d","v":3.75,"a":-1.72},{"c":"10th","b":"d","v":3.71,"a":-1.92},{"c":"10th","b":"d","v":3.67,"a":-2.12},{"c":"10th","b":"d","v":3.64,"a":-2.22},{"c":"10th","b":"d","v":3.61,"a":-2.22},{"c":"10th","b":"d","v":3.58,"a":-2.1},{"c":"10th","b":"d","v":3.55,"a":-1.85},{"c":"10th","b":"d","v":3.52,"a":-1.5},{"c":"10th","b":"d","v":3.48,"a":-1.15},{"c":"10th","b":"d","v":3.43,"a":-0.85},{"c":"10th","b":"d","v":3.37,"a":-0.62},{"c":"10th","b":"d","v":3.3,"a":-0.48},{"c":"10th","b":"d","v":3.2,"a":-0.36},{"c":"10th","b":"d","v":3.05,"a":-0.28},{"c":"10th","b":"d","v":2.9,"a":-0.22},{"c":"10th","b":"d","v":2.79,"a":-0.18}
]
},
"bounds":"flush",
"columns":2,
"spacing":{"row":100,"column":128},
"resolve":{"scale":{"color":"independent"},"legend":{"color":"independent"}},
"concat":[
 {"width":310,"height":270,"layer":[
  {"data":{"name":"tl"},"mark":{"type":"line","clip":true},"encoding":{
   "x":{"field":"v","type":"quantitative","scale":{"domain":[2.5,4.75],"nice":false,"zero":false},"axis":{"title":"Voltage (V)","tickCount":100,"labelOverlap":false,"values":[2.5,2.75,3,3.25,3.5,3.75,4,4.25,4.5,4.75],"labelExpr":"(datum.value*2)%1==0 ? format(datum.value,'.1f') : ''"}},
   "y":{"field":"a","type":"quantitative","scale":{"domain":[-2.5,4],"nice":false,"zero":false},"axis":{"title":"Current (mA)","tickCount":100,"labelOverlap":false,"values":[-2.5,-2,-1.5,-1,-0.5,0,0.5,1,1.5,2,2.5,3,3.5,4],"labelExpr":"datum.value%1==0 ? ''+datum.value : ''"}},
   "color":{"field":"c","type":"nominal","scale":{"domain":["1st","2nd","5th","10th"],"range":["#000000","#ff0000","#16873c","#0000ff"]},"legend":{"title":null,"orient":"none","legendX":18,"legendY":12}},
   "detail":{"field":"b"},
   "order":{"field":"v","type":"quantitative"}}},
  {"data":{"values":[{"t":"Pristine"}]},"mark":{"type":"text","align":"left","baseline":"alphabetic","fontSize":26},"encoding":{"x":{"datum":2.62},"y":{"datum":-2.35},"text":{"field":"t"}}},
  {"data":{"values":[{"t":"0.5mV/sec"}]},"mark":{"type":"text","align":"left","baseline":"alphabetic","fontSize":15,"clip":true},"encoding":{"x":{"datum":4.115},"y":{"datum":-2.58},"text":{"field":"t"}}}
 ]},
 {"width":302,"height":270,"layer":[
  {"data":{"name":"tr"},"mark":{"type":"line","clip":true},"encoding":{
   "x":{"field":"v","type":"quantitative","scale":{"domain":[2.5,4.696],"nice":false,"zero":false},"axis":{"title":"Voltage (V)","tickCount":100,"labelOverlap":false,"values":[2.5,2.75,3,3.25,3.5,3.75,4,4.25,4.5],"labelExpr":"(datum.value*2)%1==0 ? format(datum.value,'.1f') : ''"}},
   "y":{"field":"a","type":"quantitative","scale":{"domain":[-2.5,4],"nice":false,"zero":false},"axis":{"title":"Current (mA)","tickCount":100,"labelOverlap":false,"values":[-2.5,-2,-1.5,-1,-0.5,0,0.5,1,1.5,2,2.5,3,3.5,4],"labelExpr":"datum.value%1==0 ? ''+datum.value : ''"}},
   "color":{"field":"c","type":"nominal","scale":{"domain":["1st","2nd","5th","10th"],"range":["#000000","#ff0000","#16873c","#0000ff"]},"legend":{"title":null,"orient":"none","legendX":18,"legendY":12}},
   "detail":{"field":"b"},
   "order":{"field":"v","type":"quantitative"}}},
  {"data":{"values":[{"t":"Coating"}]},"mark":{"type":"text","align":"left","baseline":"alphabetic","fontSize":25},"encoding":{"x":{"datum":2.61},"y":{"datum":-2.35},"text":{"field":"t"}}},
  {"data":{"values":[{"t":"0.5mV/sec"}]},"mark":{"type":"text","align":"left","baseline":"alphabetic","fontSize":15,"clip":true},"encoding":{"x":{"datum":4.12},"y":{"datum":-2.58},"text":{"field":"t"}}}
 ]},
 {"width":310,"height":270,"layer":[
  {"data":{"name":"bl"},"mark":{"type":"line","clip":true},"encoding":{
   "x":{"field":"v","type":"quantitative","scale":{"domain":[2.5,4.75],"nice":false,"zero":false},"axis":{"title":"Voltage (V)","tickCount":100,"labelOverlap":false,"values":[2.5,2.75,3,3.25,3.5,3.75,4,4.25,4.5,4.75],"labelExpr":"(datum.value*2)%1==0 ? format(datum.value,'.1f') : ''"}},
   "y":{"field":"a","type":"quantitative","scale":{"domain":[-5,10],"nice":false,"zero":false},"axis":{"title":"Current (mA)","tickCount":100,"labelOverlap":false,"values":[-5,-4.5,-4,-3.5,-3,-2.5,-2,-1.5,-1,-0.5,0,0.5,1,1.5,2,2.5,3,3.5,4,4.5,5,5.5,6,6.5,7,7.5,8,8.5,9,9.5,10],"labelExpr":"datum.value%1==0 ? ''+datum.value : ''"}},
   "color":{"field":"c","type":"nominal","scale":{"domain":["1st","2nd","5th","10th"],"range":["#000000","#ff0000","#16873c","#0000ff"]},"legend":{"title":null,"orient":"none","legendX":18,"legendY":12}},
   "detail":{"field":"b"},
   "order":{"field":"v","type":"quantitative"}}},
  {"data":{"values":[{"t":"Pristine"}]},"mark":{"type":"text","align":"left","baseline":"alphabetic","fontSize":26},"encoding":{"x":{"datum":2.61},"y":{"datum":-4.5},"text":{"field":"t"}}},
  {"data":{"values":[{"t":"1.0mV/sec"}]},"mark":{"type":"text","align":"left","baseline":"alphabetic","fontSize":15,"clip":true},"encoding":{"x":{"datum":4.19},"y":{"datum":-4.83},"text":{"field":"t"}}}
 ]},
 {"width":302,"height":270,"layer":[
  {"data":{"name":"br"},"mark":{"type":"line","clip":true},"encoding":{
   "x":{"field":"v","type":"quantitative","scale":{"domain":[2.5,4.68],"nice":false,"zero":false},"axis":{"title":"Voltage (V)","tickCount":100,"labelOverlap":false,"values":[2.5,2.75,3,3.25,3.5,3.75,4,4.25,4.5],"labelExpr":"(datum.value*2)%1==0 ? format(datum.value,'.1f') : ''"}},
   "y":{"field":"a","type":"quantitative","scale":{"domain":[-5,10],"nice":false,"zero":false},"axis":{"title":"Current (mA)","tickCount":100,"labelOverlap":false,"values":[-5,-4.5,-4,-3.5,-3,-2.5,-2,-1.5,-1,-0.5,0,0.5,1,1.5,2,2.5,3,3.5,4,4.5,5,5.5,6,6.5,7,7.5,8,8.5,9,9.5,10],"labelExpr":"datum.value%1==0 ? ''+datum.value : ''"}},
   "color":{"field":"c","type":"nominal","scale":{"domain":["1st","2nd","5th","10th"],"range":["#000000","#ff0000","#16873c","#0000ff"]},"legend":{"title":null,"orient":"none","legendX":18,"legendY":12}},
   "detail":{"field":"b"},
   "order":{"field":"v","type":"quantitative"}}},
  {"data":{"values":[{"t":"Coating"}]},"mark":{"type":"text","align":"left","baseline":"alphabetic","fontSize":25},"encoding":{"x":{"datum":2.61},"y":{"datum":-4.6},"text":{"field":"t"}}},
  {"data":{"values":[{"t":"1.0mV/sec"}]},"mark":{"type":"text","align":"left","baseline":"alphabetic","fontSize":15,"clip":true},"encoding":{"x":{"datum":4.16},"y":{"datum":-4.77},"text":{"field":"t"}}}
 ]}
]
}
